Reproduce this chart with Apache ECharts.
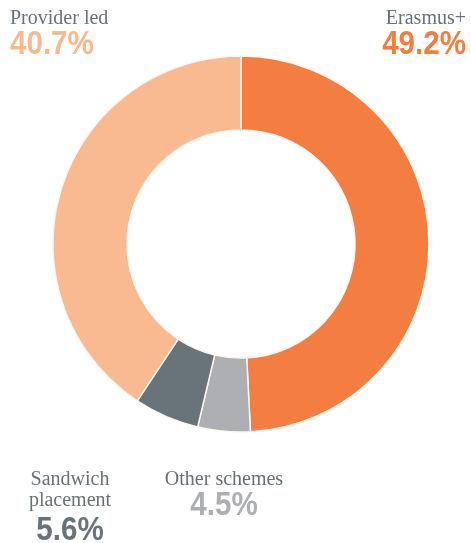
<!DOCTYPE html>
<html>
<head>
<meta charset="utf-8">
<script src="https://cdn.jsdelivr.net/npm/echarts@6/dist/echarts.min.js"></script>
<style>
  html, body { margin: 0; padding: 0; background: #fff; }
  #main { width: 471px; height: 543px; }
</style>
</head>
<body>
<div id="main"></div>
<script>
  // 数据
  var categories = ['Erasmus+', 'Other schemes', 'Sandwich\nplacement', 'Provider led'];
  var values = [49.2, 4.5, 5.6, 40.7];
  var colors = ['#f47d42', '#aeafb2', '#69737a', '#f9b991'];

  var myChart = echarts.init(document.getElementById('main'));

  var nameFont = '20px "Liberation Serif", serif';
  var pctFont = 'bold 34px "Liberation Sans", sans-serif';
  var nameColor = '#68727a';

  function pct(i) { return values[i].toFixed(1) + '%'; }

  // 标签位置 [x, nameTop, pctTop, align]
  var labelPos = [
    [466, 8, 28, 'right'],
    [224, 469, 489, 'center'],
    [70, 469, 514, 'center'],
    [10, 8, 28, 'left']
  ];

  var graphics = [];
  for (var i = 0; i < categories.length; i++) {
    var p = labelPos[i];
    graphics.push({
      type: 'text', x: p[0], y: p[1],
      style: { text: categories[i], font: nameFont, fill: nameColor, textAlign: p[3], textVerticalAlign: 'top', lineHeight: 21 }
    });
    graphics.push({
      type: 'text', x: p[0], y: p[2], scaleX: 0.87,
      style: { text: pct(i), font: pctFont, fill: colors[i], textAlign: p[3], textVerticalAlign: 'top' }
    });
  }

  var option = {
    animation: false,
    graphic: graphics,
    series: [{
      type: 'pie',
      center: [241, 244],
      radius: [114, 188],
      startAngle: 90,
      clockwise: true,
      label: { show: false },
      labelLine: { show: false },
      itemStyle: { borderColor: '#fdf6f0', borderWidth: 1.5 },
      data: categories.map(function (c, i) {
        return { name: c, value: values[i], itemStyle: { color: colors[i] } };
      })
    }]
  };

  myChart.setOption(option);
</script>
</body>
</html>
